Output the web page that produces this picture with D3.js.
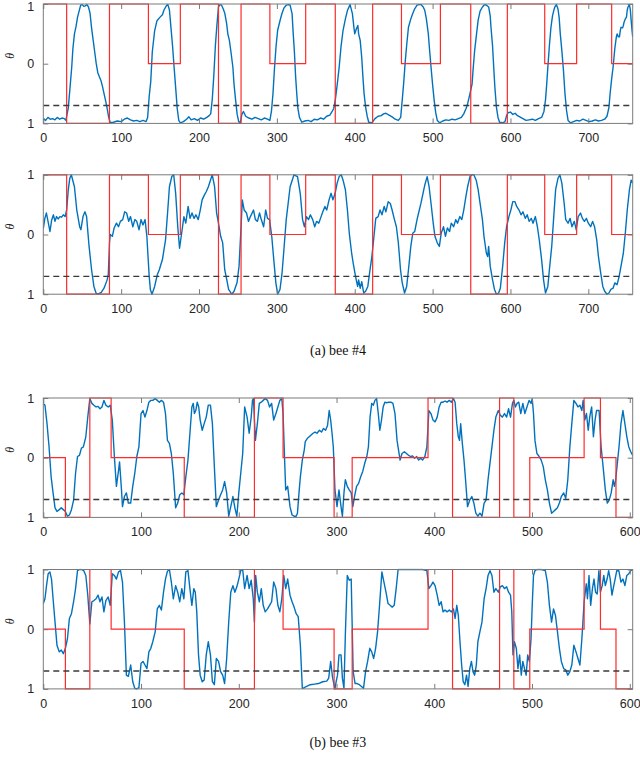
<!DOCTYPE html>
<html><head><meta charset="utf-8">
<script src="https://cdn.jsdelivr.net/npm/d3@7"></script>
<style>body{margin:0;background:#fff}svg{display:block}</style>
</head><body>
<svg id="c" width="640" height="761"></svg>
<script>
// ---------- data ----------
const yTickValues = [-1, 0, 1];
const yTickLabels = ["1", "0", "1"];
const thresholdLevel = -0.7;
const xTicksA = [0, 100, 200, 300, 400, 500, 600, 700];
const xTicksB = [0, 100, 200, 300, 400, 500, 600];
const xMaxA = 757;
const xMaxB = 603;
const captions = ["(a) bee #4", "(b) bee #3"];
const yLabel = "θ";

// red step signal (start of each segment and its level)
const stepStartsA = [0, 30, 85, 135, 176, 225, 254, 291, 337, 375, 423, 460, 510, 549, 596, 644, 685, 730];
const stepLevelsA = [1, -1, 1, 0, 1, -1, 1, 0, 1, -1, 1, 0, 1, -1, 1, 0, 1, 0];
const stepStartsB = [0, 22.6, 47.6, 69.4, 144.2, 216, 245.3, 297.5, 316, 393.6, 418.7, 466.8, 481.4, 497.7, 553.3, 570, 585.9];
const stepLevelsB = [0, -1, 1, 0, -1, 1, 0, -1, 0, 1, -1, 1, -1, 0, 1, 0, -1];

// blue traces [x, theta]
const traceA1 = [[0,-0.92],[3,-0.95],[6,-0.9],[9,-0.93],[12,-0.92],[15,-0.94],[18,-0.9],[21,-0.93],[24,-0.91],[27,-0.92],[29,-0.95],[32,-0.75],[34,-0.45],[36.5,-0.06],[38,0.25],[40,0.5],[42,0.62],[44,0.78],[46,0.88],[48,0.98],[50,0.99],[52,0.96],[54,0.97],[56,0.99],[58,0.95],[60,0.85],[62,0.6],[64,0.4],[66,0.2],[68,0.0],[70,-0.15],[72,-0.22],[74,-0.28],[76,-0.38],[78,-0.5],[80,-0.62],[82,-0.75],[84,-0.9],[86,-0.99],[90,-0.98],[95,-0.96],[100,-0.97],[104,-0.93],[108,-0.91],[112,-0.94],[116,-0.96],[120,-0.95],[124,-0.97],[128,-0.95],[132,-0.97],[134,-0.9],[136,-0.55],[138,-0.3],[140,0.2],[143,0.55],[146,0.72],[150,0.78],[153,0.82],[155,0.9],[158,0.97],[160,0.99],[162,0.9],[164,0.6],[166,0.3],[168,-0.06],[170,-0.4],[172,-0.75],[174,-0.95],[176,-0.99],[180,-0.97],[184,-0.93],[187,-0.89],[190,-0.94],[194,-0.92],[198,-0.95],[202,-0.91],[206,-0.93],[210,-0.9],[213,-0.87],[215,-0.84],[217,-0.6],[219,-0.2],[221,0.3],[223,0.65],[225,0.95],[227,0.99],[229,0.98],[231,0.92],[233,0.85],[235.5,0.67],[237,0.5],[239,0.39],[241,0.2],[243.5,-0.06],[245,-0.35],[247,-0.61],[249,-0.85],[251,-0.97],[253,-0.99],[255,-0.85],[257,-0.8],[260,-0.88],[264,-0.91],[268,-0.93],[272,-0.9],[276,-0.92],[280,-0.94],[284,-0.91],[288,-0.93],[291,-0.95],[293,-0.8],[295,-0.5],[297,-0.06],[299,0.3],[301,0.56],[304,0.72],[306.5,0.84],[309,0.93],[312,0.98],[315,0.99],[317,0.98],[319.5,0.84],[321,0.5],[322.5,0.2],[324,-0.2],[325.5,-0.5],[327,-0.75],[329,-0.9],[332,-0.98],[336,-0.96],[340,-0.95],[344,-0.97],[348,-0.93],[352,-0.94],[356,-0.91],[360,-0.93],[364,-0.88],[368,-0.86],[371,-0.8],[373,-0.75],[375,-0.61],[377.5,-0.35],[380,-0.06],[382.5,0.3],[385,0.56],[388,0.75],[390.6,0.89],[394,0.99],[397,0.84],[399,0.6],[400,0.5],[402,0.58],[404,0.64],[405,0.5],[407,0.39],[409,0.1],[410.5,-0.22],[412,-0.5],[414,-0.73],[416,-0.88],[418,-0.98],[422,-0.99],[426,-0.92],[430,-0.88],[434,-0.87],[437,-0.84],[440,-0.83],[444,-0.86],[448,-0.89],[452,-0.93],[456,-0.95],[459,-0.9],[461,-0.61],[463,-0.3],[465,0.06],[467,0.35],[469,0.61],[472,0.75],[474.5,0.84],[477,0.92],[480,0.98],[483,0.99],[485,0.99],[488,0.95],[490,0.89],[492,0.75],[494.5,0.5],[496,0.25],[498,-0.06],[500,-0.35],[502,-0.61],[504,-0.82],[506,-0.95],[509,-0.99],[513,-0.96],[517,-0.94],[521,-0.95],[525,-0.93],[529,-0.94],[533,-0.92],[537,-0.9],[540,-0.84],[543,-0.75],[545,-0.67],[548,-0.5],[550.7,-0.34],[552,-0.1],[554,0.22],[556,0.45],[558.5,0.73],[561,0.88],[564,0.95],[566,0.98],[568,0.99],[570,0.97],[572,0.95],[574,0.8],[575,0.61],[577,0.3],[578.5,-0.06],[580,-0.4],[582,-0.73],[584,-0.9],[586,-0.98],[590,-0.99],[593,-0.97],[595,-0.87],[597,-0.82],[600,-0.81],[603,-0.85],[606,-0.83],[609,-0.87],[612,-0.89],[616,-0.92],[620,-0.95],[624,-0.94],[628,-0.93],[632,-0.95],[636,-0.92],[640,-0.9],[643,-0.8],[645,-0.61],[646.5,-0.35],[648,-0.06],[650,0.3],[652,0.61],[654,0.8],[655.6,0.89],[657,0.95],[659,0.99],[661,0.92],[662.5,0.78],[664,0.5],[666,0.22],[668,-0.1],[670,-0.5],[672,-0.78],[674,-0.95],[677,-0.99],[681,-0.97],[685,-0.95],[689,-0.96],[693,-0.93],[697,-0.95],[701,-0.97],[705,-0.96],[709,-0.94],[713,-0.96],[717,-0.95],[721,-0.93],[724,-0.88],[726.5,-0.73],[728,-0.5],[730,-0.25],[731.8,-0.06],[734,0.25],[736,0.45],[737,0.5],[738.5,0.45],[740,0.45],[741,0.55],[742,0.61],[744,0.6],[745,0.64],[746,0.7],[747.5,0.75],[749,0.78],[750,0.9],[751,0.95],[752.8,0.99],[754,0.9],[755,0.73],[756,0.58],[757,0.45]];

const traceA2 = [[0,0.1],[2,0.27],[4,0.36],[6.5,0.19],[8.6,0.05],[10.7,0.24],[13,0.33],[15,0.22],[17,0.3],[19,0.26],[21.4,0.3],[23.5,0.29],[25.7,0.33],[28,0.3],[30,0.41],[32,0.74],[34,0.94],[36,1.0],[40,0.8],[43,0.41],[46.7,0.13],[48.3,0.08],[51,0.3],[53.5,0.38],[55.6,0.3],[58.8,-0.2],[62,-0.59],[65,-0.87],[67.7,-0.98],[70,-1],[74.5,-0.97],[78,-0.9],[82,-0.76],[83.5,-0.67],[85,-0.14],[86,0],[88.7,-0.03],[91,0.11],[94,0.19],[96.6,0.13],[99,0.22],[102,0.25],[104.5,0.38],[107,0.36],[109.7,0.22],[112,0.3],[115,0.13],[117.6,0.25],[120,0.22],[123,0.08],[125.5,0.25],[128,0.16],[130.7,0.25],[133,-0.03],[136,-0.7],[137.5,-0.92],[139.6,-1],[143,-0.87],[146.5,-0.67],[149,-0.59],[153,-0.42],[157,-0.09],[159.6,0.36],[162,0.8],[165,0.97],[167.5,1.0],[170,0.69],[172.7,0.13],[175,-0.23],[178,0.05],[180.6,0.3],[183,0.19],[186,0.47],[188.5,0.27],[191,0.36],[193.7,0.27],[196,0.33],[199,0.25],[201.6,0.41],[204,0.58],[206.8,0.66],[209.4,0.72],[212,0.8],[214.7,0.91],[217,1.0],[220,0.8],[222.6,0.36],[225,0.19],[227.8,-0.03],[230.4,-0.14],[233,-0.59],[235.7,-0.76],[238,-0.92],[242,-1],[245,-0.95],[248.8,-0.81],[251.4,-0.53],[254,0.13],[255.6,0.58],[258,0.41],[261,0.36],[263.5,0.22],[266,0.3],[270,0.41],[272.4,0.25],[275,0.22],[277.7,0.36],[280,0.25],[283,0.13],[285.6,0.41],[288,0.27],[290.6,0.25],[293.4,-0.03],[296,-0.42],[298.7,-0.81],[301,-1],[304,-0.92],[306.6,-0.65],[309,-0.26],[312,0.25],[317,0.8],[322,1.0],[326.5,0.97],[330,0.69],[333,0.25],[335.4,0.13],[338,0.3],[340.7,0.25],[343,0.33],[346,0.25],[348.6,0.13],[351,0.22],[353.8,0.19],[356,0.27],[359,0.38],[361.7,0.47],[364,0.41],[367,0.58],[369.6,0.69],[372,0.58],[374.8,0.69],[377.4,0.86],[380,0.97],[382.7,1.0],[385,0.91],[388,0.75],[390.6,0.41],[393,0.02],[396,-0.31],[398,-0.48],[401,-0.7],[403.7,-0.87],[405,-0.76],[407,-0.9],[409,-0.79],[411.5,-0.98],[414,-0.95],[416.8,-0.87],[419,-0.65],[422,-0.37],[424.7,-0.03],[427,0.27],[430,0.3],[432.5,0.41],[435,0.33],[437.8,0.47],[440,0.38],[443,0.55],[445.7,0.52],[448,0.41],[451,0.25],[453.5,0.13],[456,-0.14],[458.8,-0.59],[461,-0.81],[464,-0.98],[466.7,-0.87],[469,-0.59],[472,-0.2],[474.5,0.02],[477,0.05],[480,0.25],[482,0.36],[485,0.52],[487.7,0.69],[490,0.83],[493,0.97],[495.5,0.8],[498,0.52],[500.8,0.19],[503,-0.03],[506,-0.14],[508.7,-0.2],[511,0.02],[514,0.13],[516.5,-0.03],[519,0.11],[521.8,0.05],[524,0.19],[527,0.13],[529.7,0.25],[532,0.19],[535,0.3],[537.5,0.25],[540,0.41],[542.8,0.64],[545,0.8],[548,0.97],[550.7,1.0],[553,1.0],[556,0.91],[558.5,0.75],[561,0.52],[564,0.25],[566,-0.03],[569,-0.31],[570.7,-0.37],[572,-0.2],[574,-0.53],[577,-0.76],[579.5,-0.92],[582,-1],[584.8,-0.98],[587,-0.9],[590,-0.53],[592.6,-0.14],[595,0.13],[598,0.3],[600.5,0.41],[603,0.55],[605.8,0.55],[608,0.47],[611,0.41],[613.6,0.33],[616,0.38],[619,0.27],[621.5,0.33],[624,0.22],[626.8,0.27],[629,0.19],[632,0.3],[634.6,0.13],[637,-0.09],[640,-0.42],[642.5,-0.76],[645,-0.98],[648,-0.87],[650,-0.59],[653,-0.2],[655.6,0.3],[658,0.75],[661,0.94],[663.5,1.0],[666,0.86],[669,0.52],[671,0.25],[674,0.19],[676.6,0.27],[679,0.13],[682,0.22],[684.5,0.08],[687,0.3],[690,0.36],[692.4,0.27],[695,0.22],[697.6,0.27],[700,0.19],[703,0.13],[705.5,0.22],[708,0.13],[710.8,-0.09],[713,-0.37],[716,-0.65],[718.6,-0.87],[721,-0.95],[724,-1],[726.5,-0.98],[729,-0.92],[731.8,-0.9],[734,-0.81],[737,-0.84],[739.6,-0.7],[742,-0.53],[745,-0.31],[747.5,0.02],[750,0.41],[752.8,0.75],[755,0.91],[757,0.86]];

const traceB1 = [[0,0.91],[1.7,0.88],[3.8,0.57],[5.9,0.18],[8,-0.32],[10,-0.59],[12,-0.84],[14,-0.9],[16.3,-0.87],[18.4,-0.84],[20.5,-0.87],[22.6,-0.9],[24.7,-0.98],[26.7,-0.96],[28.8,-0.87],[31,-0.71],[33,-0.26],[35,0.02],[37,0.04],[39,0.16],[41,0.18],[43.5,0.35],[45.5,0.68],[47.6,0.99],[49.7,0.91],[51.8,0.88],[54,0.85],[56,0.86],[58,0.82],[60,0.85],[62,0.96],[64,0.88],[66.4,0.85],[68.5,0.88],[70.6,0.63],[72.7,0.02],[74.8,-0.48],[77,-0.21],[78,-0.07],[80,-0.54],[81,-0.82],[83,-0.65],[85,-0.59],[87,-0.76],[89.4,-0.76],[91.5,-0.48],[93.6,-0.26],[95.7,0.02],[97.8,0.18],[100,0.74],[102,0.79],[104,0.68],[106,0.79],[108,0.93],[110,0.96],[112,0.96],[114.5,0.99],[116.6,0.96],[118.7,0.93],[120.8,0.96],[123,0.93],[125,0.74],[127,0.29],[129,0.24],[131,0.07],[133,-0.26],[135.4,-0.84],[137.5,-0.76],[139.6,-0.62],[141.7,-0.59],[143.8,-0.62],[145.8,-0.32],[148,-0.04],[150,0.41],[152,0.85],[153.4,0.91],[154.6,0.74],[156,0.79],[157.5,0.93],[159,0.85],[160.5,0.63],[162.6,0.46],[164.6,0.57],[166.7,0.68],[168.8,0.88],[171,0.88],[173,0.57],[175,-0.15],[177,-0.82],[179.3,-0.71],[181.4,-0.62],[183.5,-0.54],[185.5,-0.4],[187.6,-0.59],[189.7,-0.98],[191.8,-0.82],[194,-0.65],[196,-0.84],[198,-0.98],[200,-0.59],[202,-0.26],[204,0.07],[206,0.85],[208.5,0.68],[210.6,0.41],[212.7,0.68],[214,0.96],[215,0.99],[217,0.29],[219,0.57],[221,0.91],[223,0.93],[225,0.96],[227,0.99],[229.4,0.96],[231.5,0.85],[233.6,0.91],[235.7,0.63],[238,0.74],[240,0.85],[242,0.96],[244,0.99],[245.3,0.74],[247,-0.09],[248,-0.54],[250,-0.48],[252.4,-0.82],[254.5,-0.96],[256.6,-0.98],[258.7,-0.98],[260,-0.93],[261.6,-0.59],[263,-0.32],[265,-0.04],[267,0.13],[268,0.27],[270,0.32],[272,0.35],[274,0.38],[276,0.41],[278,0.43],[280,0.41],[282.5,0.46],[284.6,0.43],[286.7,0.49],[288.8,0.46],[290.8,0.54],[292.5,0.79],[294,0.63],[295.4,0.41],[296.7,0.18],[298.4,-0.54],[300.5,-0.82],[302.5,-0.54],[304.6,-0.82],[306,-0.98],[307.6,-0.59],[309,-0.37],[311,-0.48],[313,-0.54],[315,-0.59],[316.7,-0.82],[318.4,-0.65],[320.5,-0.48],[322.6,-0.43],[324.7,-0.32],[326.8,-0.23],[328.9,-0.09],[331,0.02],[332.6,0.18],[334.3,0.68],[336,0.91],[337.6,0.88],[339.3,0.96],[341,0.99],[342.7,0.74],[344.3,0.46],[346,0.63],[347.7,0.85],[349.4,0.93],[351.4,0.92],[353.5,0.93],[355.6,0.93],[357.7,0.91],[359.8,0.74],[361.9,0.29],[364,0.07],[365,-0.04],[367,0.07],[369.4,0.1],[371.5,0.07],[373.6,0.04],[375.7,0.02],[377.8,0.03],[379.9,-0.01],[382,0.02],[384,-0.04],[386,-0.01],[388,-0.04],[390.4,0.02],[392.4,0.18],[394.5,0.79],[396.6,0.74],[398.7,0.63],[400.8,0.6],[403,0.68],[405,0.85],[407,0.93],[409,0.93],[411,0.95],[413,0.93],[415.4,0.96],[417.5,0.93],[419.6,0.99],[421.3,0.93],[423,0.57],[424.6,0.35],[425.8,0.29],[427,0.57],[428.7,0.24],[430.4,-0.04],[432,-0.37],[434,-0.82],[436.3,-0.71],[438.4,-0.65],[440.5,-0.76],[442.5,-0.93],[444.6,-0.98],[446.7,-0.93],[448.8,-0.98],[451,-0.76],[453,-0.71],[455,-0.37],[457,-0.09],[459,0.18],[461,0.46],[463,0.68],[465.5,0.79],[467.6,0.71],[469.7,0.68],[471.8,0.74],[474,0.68],[476,0.82],[478,0.68],[480,0.91],[481.4,0.96],[483,0.85],[484.7,0.91],[486.4,0.93],[488.5,0.74],[490.6,0.91],[492.7,0.74],[494.8,0.85],[497,0.96],[499,0.91],[500.2,0.99],[501.5,0.74],[503,0.29],[505,0.07],[507.3,0.02],[509.4,-0.04],[511.5,-0.15],[513.6,-0.37],[515.7,-0.54],[517.8,-0.76],[520,-0.93],[522,-0.9],[524,-0.87],[526,-0.84],[528,-0.76],[530,-0.65],[532.4,-0.59],[534.5,-0.68],[536.6,-0.37],[538.7,0.18],[540.7,0.57],[542.8,0.96],[545,0.91],[547,0.85],[549,0.88],[551,0.79],[552.3,0.96],[554,0.63],[555.7,0.74],[557.5,0.46],[559,0.68],[561,0.85],[562.8,0.35],[564.5,0.63],[566,0.79],[568.6,0.79],[570.7,0.18],[572.7,-0.15],[575,-0.54],[577,-0.76],[579,-0.71],[581,-0.59],[583,-0.37],[584.3,-0.48],[585.6,-0.37],[587.3,-0.09],[589,0.18],[591,0.57],[593,0.79],[595,0.57],[597,0.35],[599,0.18],[601,0.1],[603,0.04]];

const traceB2 = [[0,0.43],[1.7,0.51],[3.3,0.73],[5,0.93],[6.7,0.96],[8.4,0.84],[10,0.51],[12,0.12],[14,-0.27],[16.3,-0.38],[18.4,-0.35],[20.5,-0.41],[22.6,-0.32],[24.7,-0.16],[26.7,0.18],[28.8,0.26],[31,0.46],[33,0.68],[35,0.98],[37,1.0],[39,1.0],[41.4,0.98],[43.5,0.9],[45.5,0.57],[47.6,0.09],[49.7,0.46],[51.8,0.48],[54,0.51],[56,0.57],[58,0.46],[60,0.54],[62,0.29],[64,0.48],[66.4,0.54],[68.5,0.4],[70.6,0.93],[72.7,0.9],[74.8,0.84],[77,0.96],[79,0.98],[81,0.79],[83,0.12],[85,-0.77],[87,-0.79],[89.4,-0.6],[91.5,-0.88],[93.6,-0.99],[95.7,-1],[97.8,-0.98],[100,-0.57],[102,-0.54],[104,-0.6],[106,-0.66],[108,-0.38],[110,-0.32],[112,-0.21],[114.5,-0.04],[116.6,0.34],[118.7,0.4],[120.8,0.32],[123,0.62],[125,0.84],[127,0.97],[129,1.0],[131,0.79],[133,0.51],[135.4,0.73],[137.5,0.62],[139.6,0.46],[141.7,0.68],[143.8,0.51],[145.8,0.96],[148,0.98],[150,0.68],[152,0.4],[154,0.68],[155.5,0.62],[157,0.29],[158.8,-0.43],[160.5,-0.77],[162.6,-0.88],[164.6,-0.85],[166.7,-0.43],[168.8,-0.21],[171,-0.43],[173,-0.88],[175,-0.93],[177,-0.49],[179.3,-0.54],[181.4,-0.71],[183.5,-0.77],[185.5,-0.91],[187.6,-0.49],[189.7,0.12],[191.8,0.62],[194,0.73],[196,0.62],[198,0.71],[200,0.84],[202,0.98],[204,1.0],[206,0.68],[208.5,0.9],[210.6,0.68],[212.7,0.82],[214.8,0.51],[216,0.12],[217.3,0.9],[219,0.62],[221,0.46],[223,0.68],[225,0.4],[227,0.29],[229.4,0.34],[231.5,0.4],[233.6,0.46],[235.7,0.79],[238,0.68],[240,0.4],[242,0.29],[244,0.51],[246,0.9],[248,0.68],[250,0.84],[252.4,0.57],[254.5,0.46],[256.6,0.37],[258.7,0.26],[260.8,0.21],[263,-0.27],[265,-0.99],[267,-0.98],[269,-0.96],[273,-0.93],[277.5,-0.92],[281.6,-0.91],[285.8,-0.88],[290,-0.87],[292,-0.82],[294,-0.54],[296,-0.82],[298.4,-1],[299.6,-0.88],[301,-0.77],[302.5,-0.43],[304.6,-0.43],[306,-0.82],[307.6,-0.99],[309,-0.1],[311,0.9],[313,0.82],[315,0.84],[317,-0.71],[319,-0.91],[321,-0.91],[323.4,-0.93],[325.5,-0.96],[327.6,-0.99],[329.7,-0.71],[331.8,-0.54],[334,-0.32],[336,-0.38],[338,-0.49],[340,-0.32],[342,-0.04],[344,0.4],[346.4,0.96],[348.5,0.79],[350.6,0.62],[352.7,0.43],[354.8,0.4],[357,0.37],[359,0.4],[361,0.68],[363,1.0],[369.4,1.0],[373.6,1.0],[382,1.0],[388,1.0],[392.4,0.98],[394.5,0.68],[396.6,0.73],[398.7,0.79],[400.8,0.73],[403,0.57],[405,0.4],[407,0.46],[409,0.29],[411,0.32],[413,0.29],[415.4,0.32],[417.5,0.29],[419.6,0.34],[421.3,0.18],[423,0.4],[424.6,0.23],[426.3,-0.21],[428,-0.6],[429.6,-0.88],[431.3,-0.93],[433,-0.77],[434.6,-0.96],[436.3,-0.66],[438,-0.54],[439.6,-0.71],[441.3,-0.77],[443,-0.6],[444.6,-0.21],[446.7,-0.04],[448.8,0.12],[451,0.51],[453,0.68],[455,0.9],[457,0.98],[459,0.9],[461,0.62],[463,0.68],[465.5,0.62],[467.6,0.71],[469.7,0.73],[471.8,0.68],[474,0.71],[476,0.62],[478,0.57],[479.3,0.29],[480.5,-0.43],[482,-0.21],[483.9,-0.32],[485.6,-0.66],[487.3,-0.43],[489,-0.77],[490.6,-0.54],[492.3,-0.66],[494,-0.77],[495.6,-0.43],[497.3,-0.54],[499,-0.16],[500.2,0.4],[501.5,0.9],[503,0.98],[505,1.0],[509.4,1.0],[513.6,0.98],[515.7,0.79],[517.8,0.4],[520,0.12],[522,0.34],[524,0.23],[526,-0.04],[528,-0.32],[530,-0.54],[532.4,-0.66],[534.5,-0.68],[536.6,-0.77],[538.7,-0.71],[540.7,-0.6],[542.8,-0.27],[545,-0.38],[547,-0.49],[549,-0.6],[551,-0.16],[553.3,0.46],[555.5,0.76],[556.7,0.51],[558.3,0.9],[560,0.4],[561.8,0.68],[563.4,0.84],[565,0.62],[566.7,0.59],[568.4,0.98],[570,0.62],[571.8,0.73],[573.4,0.9],[575,0.73],[576.8,0.84],[578.4,0.98],[580,0.84],[581.8,0.57],[583.4,0.71],[585,0.84],[586.7,0.98],[588.8,0.98],[591,0.79],[593,0.84],[595,0.73],[597,0.9],[599,0.93],[601,0.98],[603,1.0]];

// ---------- layout ----------
const left = 43.3, right = 632.7, plotH = 119.4;
const panels = [
  {top: 4,     trace: traceA1, starts: stepStartsA, levels: stepLevelsA, xMax: xMaxA, ticks: xTicksA},
  {top: 174.8, trace: traceA2, starts: stepStartsA, levels: stepLevelsA, xMax: xMaxA, ticks: xTicksA},
  {top: 398,   trace: traceB1, starts: stepStartsB, levels: stepLevelsB, xMax: xMaxB, ticks: xTicksB},
  {top: 569.5, trace: traceB2, starts: stepStartsB, levels: stepLevelsB, xMax: xMaxB, ticks: xTicksB}
];
const captionY = [355, 747];

const svg = d3.select("#c");
const axisColor = "#7a7a7a";
const tickFont = "'Liberation Sans', Arial, Helvetica, sans-serif";

panels.forEach((p, i) => {
  const x = d3.scaleLinear().domain([0, p.xMax]).range([left, right]);
  const y = d3.scaleLinear().domain([-1, 1]).range([p.top + plotH, p.top]);
  const g = svg.append("g");
  const clipId = "clip" + i;
  g.append("clipPath").attr("id", clipId).append("rect")
    .attr("x", left).attr("y", p.top - 1).attr("width", right - left).attr("height", plotH + 2);

  const plot = g.append("g").attr("clip-path", `url(#${clipId})`);

  // blue trace
  plot.append("path").datum(p.trace)
    .attr("fill", "none").attr("stroke", "#0072BD").attr("stroke-width", 1.4)
    .attr("stroke-linejoin", "round")
    .attr("d", d3.line().x(d => x(d[0])).y(d => y(d[1])));

  // red step
  const stepData = p.starts.map((s, k) => [s, p.levels[k]]);
  stepData.push([p.xMax, p.levels[p.levels.length - 1]]);
  plot.append("path").datum(stepData)
    .attr("fill", "none").attr("stroke", "#ff2a2a").attr("stroke-width", 1.2)
    .attr("d", d3.line().curve(d3.curveStepAfter).x(d => x(d[0])).y(d => y(d[1])));

  // threshold dashed
  plot.append("line")
    .attr("x1", left).attr("x2", right)
    .attr("y1", y(thresholdLevel)).attr("y2", y(thresholdLevel))
    .attr("stroke", "#3a3a3a").attr("stroke-width", 1.3).attr("stroke-dasharray", "6,4");

  // axes (MATLAB-like box with inward ticks)
  const xAxisB = d3.axisBottom(x).tickValues(p.ticks).tickSizeInner(-5).tickSizeOuter(0).tickPadding(10).tickFormat(d3.format("d"));
  const xAxisT = d3.axisTop(x).tickValues(p.ticks).tickSizeInner(-5).tickSizeOuter(0).tickFormat("");
  const yAxisL = d3.axisLeft(y).tickValues(yTickValues).tickSizeInner(-5).tickSizeOuter(0).tickPadding(9)
    .tickFormat((d, k) => yTickLabels[k]);
  const yAxisR = d3.axisRight(y).tickValues(yTickValues).tickSizeInner(-5).tickSizeOuter(0).tickFormat("");

  const styleAxis = sel => {
    sel.select(".domain").remove();
    sel.selectAll("line").attr("stroke", axisColor);
    sel.selectAll("text").attr("fill", "#262626").style("font-family", tickFont).style("font-size", "12.5px");
  };
  g.append("g").attr("transform", `translate(0,${p.top + plotH})`).call(xAxisB).call(styleAxis);
  g.append("g").attr("transform", `translate(0,${p.top})`).call(xAxisT).call(styleAxis);
  const yl = g.append("g").attr("transform", `translate(${left},0)`).call(yAxisL).call(styleAxis);
  if (i === 0) {
    // keep the top label inside the page
    yl.selectAll(".tick text").filter(d => d === 1).attr("dy", "0.5em");
  }
  g.append("g").attr("transform", `translate(${right},0)`).call(yAxisR).call(styleAxis);

  g.append("rect").attr("x", left).attr("y", p.top).attr("width", right - left).attr("height", plotH)
    .attr("fill", "none").attr("stroke", axisColor).attr("stroke-width", 1);

  // y label
  g.append("text")
    .attr("transform", `translate(14,${p.top + plotH / 2 - 8}) rotate(-90)`)
    .attr("text-anchor", "middle")
    .style("font-family", "'Liberation Serif', 'Times New Roman', serif")
    .style("font-style", "italic").style("font-size", "12px").attr("fill", "#262626")
    .text(yLabel);
});

captions.forEach((c, k) => {
  svg.append("text").attr("x", 338).attr("y", captionY[k]).attr("text-anchor", "middle")
    .style("font-family", "'Liberation Serif', 'Times New Roman', serif").style("font-size", "14px")
    .attr("fill", "#111").text(c);
});
</script>
</body></html>
